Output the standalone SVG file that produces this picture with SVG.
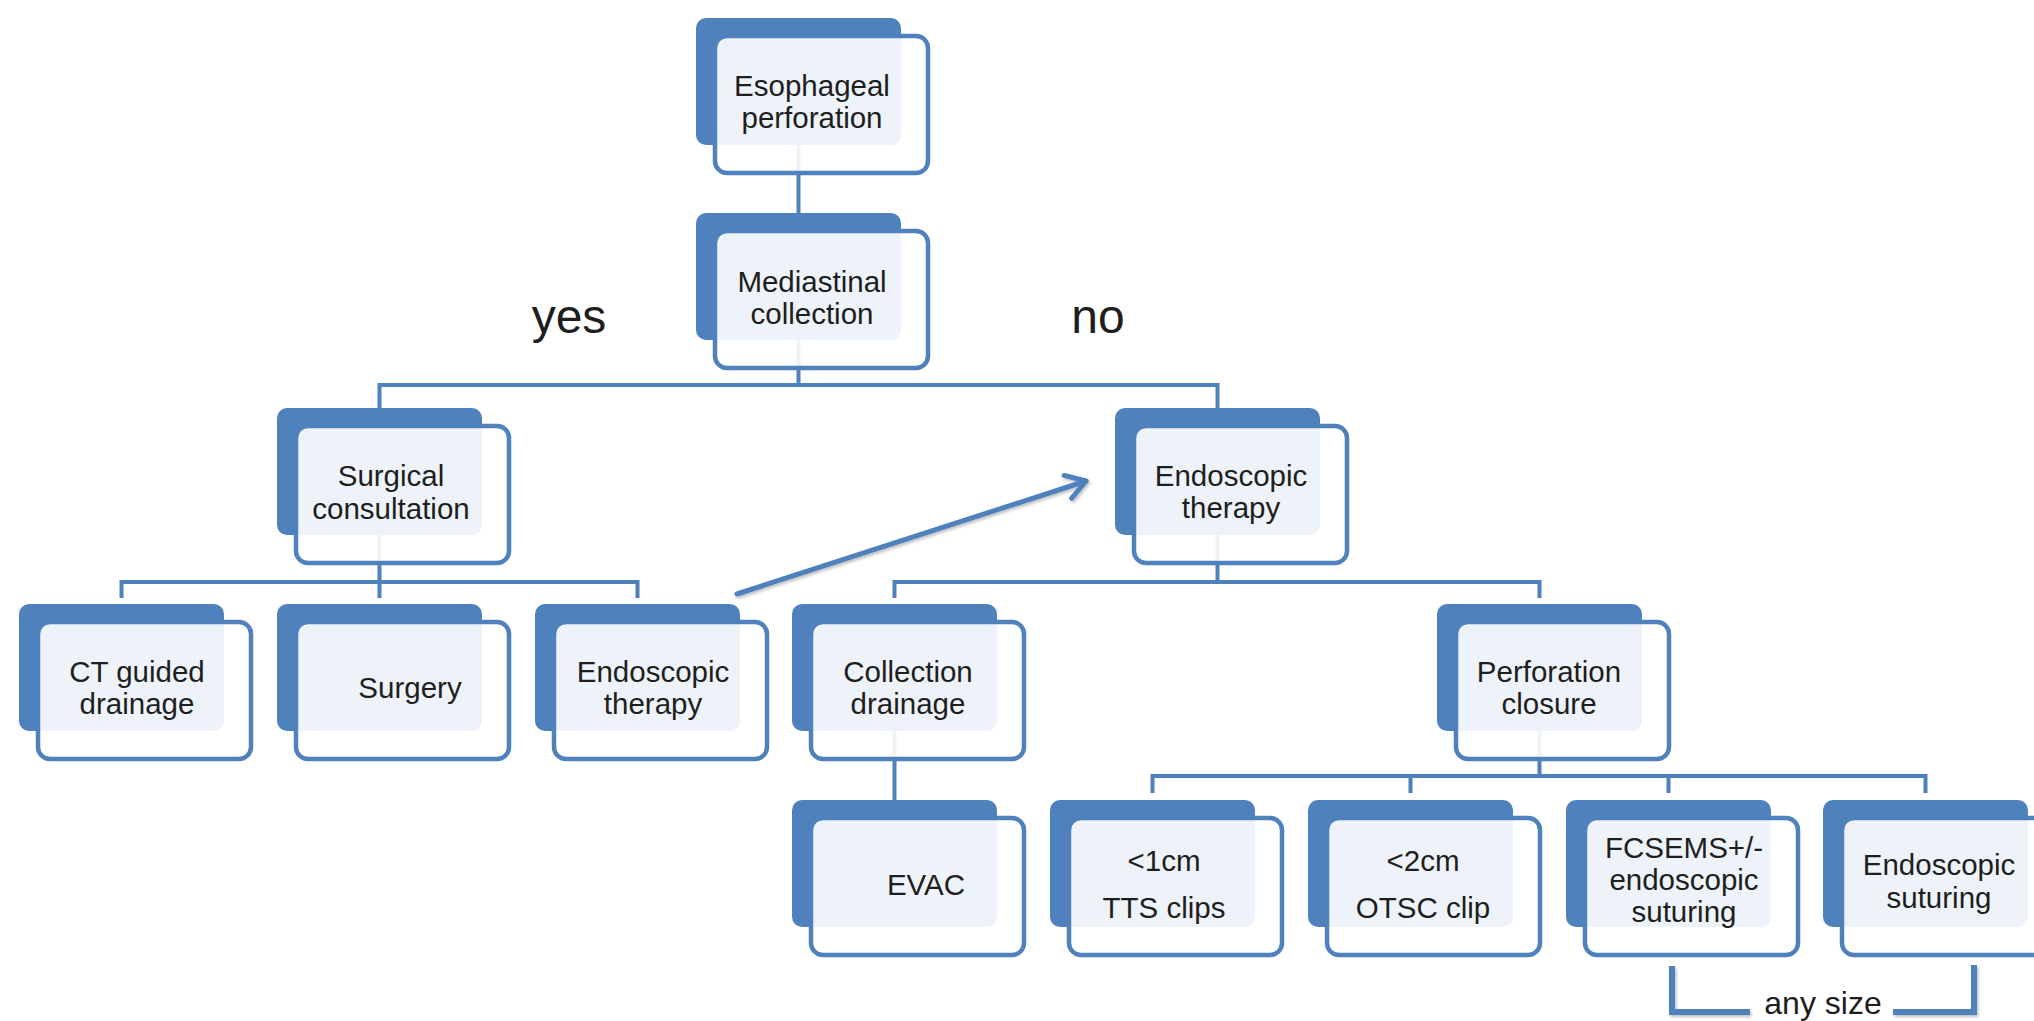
<svg xmlns="http://www.w3.org/2000/svg" width="2034" height="1021" viewBox="0 0 2034 1021">
  <style>
    .back { fill: #4f81bd; }
    .front { fill: #ffffff; fill-opacity: 0.9; stroke: #4f81bd; stroke-width: 4.5; }
    .lbl { font-family: "Liberation Sans", Arial, sans-serif; font-size: 29.5px; fill: #1e1e1e; text-anchor: middle; }
    .big { font-family: "Liberation Sans", Arial, sans-serif; font-size: 48px; fill: #1e1e1e; text-anchor: middle; }
    .small { font-family: "Liberation Sans", Arial, sans-serif; font-size: 32px; fill: #1e1e1e; text-anchor: middle; }
    .conn { fill: none; stroke: #4f81bd; stroke-width: 4; }
    .arrow { fill: none; stroke: #4f81bd; stroke-width: 5; stroke-linecap: round; }
    .bracket { fill: none; stroke: #4f81bd; stroke-width: 6; }
  </style>
  <defs>
    <filter id="sh" x="-10%" y="-10%" width="120%" height="130%">
      <feDropShadow dx="1.5" dy="2" stdDeviation="1.5" flood-color="#000" flood-opacity="0.25"/>
    </filter>
    <marker id="chev" markerUnits="userSpaceOnUse" markerWidth="40" markerHeight="40" refX="0" refY="0" viewBox="-30 -20 40 40" orient="auto">
      <path d="M -19 -12 L 0 0 L -19 12" fill="none" stroke="#4f81bd" stroke-width="5" stroke-linecap="round" stroke-linejoin="round"/>
    </marker>
  </defs>
  <rect width="2034" height="1021" fill="#ffffff"/>

  <g id="connectors">
    <path class="conn" d="M 798.5 145 V 213"/>
    <path class="conn" d="M 798.5 340 V 385 M 379.5 408 V 385 H 1217.5 V 408"/>
    <path class="conn" d="M 379.5 535 V 582 M 121.5 598 V 582 H 637.5 V 598 M 379.5 582 V 598"/>
    <path class="conn" d="M 1217.5 535 V 582 M 894.5 598 V 582 H 1539.5 V 598"/>
    <path class="conn" d="M 894.5 731 V 800"/>
    <path class="conn" d="M 1539.5 731 V 776 M 1152.5 793 V 776 H 1925.5 V 793 M 1410.5 776 V 793 M 1668.5 776 V 793"/>
    <path class="arrow" filter="url(#sh)" d="M 737 594 L 1086 481" marker-end="url(#chev)"/>
    <path class="bracket" filter="url(#sh)" d="M 1672 966 V 1012 H 1750 M 1893 1012 H 1974 V 965"/>
  </g>

  <g id="n-esophageal">
    <rect class="back" x="696" y="18" width="205" height="127" rx="10"/>
    <rect class="front" x="715" y="36" width="213" height="137" rx="12"/>
    <text class="lbl" x="812" y="96">Esophageal</text>
    <text class="lbl" x="812" y="128">perforation</text>
  </g>

  <g id="n-mediastinal">
    <rect class="back" x="696" y="213" width="205" height="127" rx="10"/>
    <rect class="front" x="715" y="231" width="213" height="137" rx="12"/>
    <text class="lbl" x="812" y="292">Mediastinal</text>
    <text class="lbl" x="812" y="324">collection</text>
  </g>

  <text id="lbl-yes" class="big" x="569" y="333">yes</text>
  <text id="lbl-no" class="big" x="1098" y="333">no</text>

  <g id="n-surgical">
    <rect class="back" x="277" y="408" width="205" height="127" rx="10"/>
    <rect class="front" x="296" y="426" width="213" height="137" rx="12"/>
    <text class="lbl" x="391" y="486">Surgical</text>
    <text class="lbl" x="391" y="519">consultation</text>
  </g>

  <g id="n-endoscopic-main">
    <rect class="back" x="1115" y="408" width="205" height="127" rx="10"/>
    <rect class="front" x="1134" y="426" width="213" height="137" rx="12"/>
    <text class="lbl" x="1231" y="486">Endoscopic</text>
    <text class="lbl" x="1231" y="518">therapy</text>
  </g>

  <g id="n-ct">
    <rect class="back" x="19" y="604" width="205" height="127" rx="10"/>
    <rect class="front" x="38" y="622" width="213" height="137" rx="12"/>
    <text class="lbl" x="137" y="682">CT guided</text>
    <text class="lbl" x="137" y="714">drainage</text>
  </g>

  <g id="n-surgery">
    <rect class="back" x="277" y="604" width="205" height="127" rx="10"/>
    <rect class="front" x="296" y="622" width="213" height="137" rx="12"/>
    <text class="lbl" x="410" y="698">Surgery</text>
  </g>

  <g id="n-endoscopic-left">
    <rect class="back" x="535" y="604" width="205" height="127" rx="10"/>
    <rect class="front" x="554" y="622" width="213" height="137" rx="12"/>
    <text class="lbl" x="653" y="682">Endoscopic</text>
    <text class="lbl" x="653" y="714">therapy</text>
  </g>

  <g id="n-collection">
    <rect class="back" x="792" y="604" width="205" height="127" rx="10"/>
    <rect class="front" x="811" y="622" width="213" height="137" rx="12"/>
    <text class="lbl" x="908" y="682">Collection</text>
    <text class="lbl" x="908" y="714">drainage</text>
  </g>

  <g id="n-perforation">
    <rect class="back" x="1437" y="604" width="205" height="127" rx="10"/>
    <rect class="front" x="1456" y="622" width="213" height="137" rx="12"/>
    <text class="lbl" x="1549" y="682">Perforation</text>
    <text class="lbl" x="1549" y="714">closure</text>
  </g>

  <g id="n-evac">
    <rect class="back" x="792" y="800" width="205" height="127" rx="10"/>
    <rect class="front" x="811" y="818" width="213" height="137" rx="12"/>
    <text class="lbl" x="926" y="895">EVAC</text>
  </g>

  <g id="n-1cm">
    <rect class="back" x="1050" y="800" width="205" height="127" rx="10"/>
    <rect class="front" x="1069" y="818" width="213" height="137" rx="12"/>
    <text class="lbl" x="1164" y="871">&lt;1cm</text>
    <text class="lbl" x="1164" y="918">TTS clips</text>
  </g>

  <g id="n-2cm">
    <rect class="back" x="1308" y="800" width="205" height="127" rx="10"/>
    <rect class="front" x="1327" y="818" width="213" height="137" rx="12"/>
    <text class="lbl" x="1423" y="871">&lt;2cm</text>
    <text class="lbl" x="1423" y="918">OTSC clip</text>
  </g>

  <g id="n-fcsems">
    <rect class="back" x="1566" y="800" width="205" height="127" rx="10"/>
    <rect class="front" x="1585" y="818" width="213" height="137" rx="12"/>
    <text class="lbl" x="1684" y="858">FCSEMS+/-</text>
    <text class="lbl" x="1684" y="890">endoscopic</text>
    <text class="lbl" x="1684" y="922">suturing</text>
  </g>

  <g id="n-suturing">
    <rect class="back" x="1823" y="800" width="205" height="127" rx="10"/>
    <rect class="front" x="1842" y="818" width="213" height="137" rx="12"/>
    <text class="lbl" x="1939" y="875">Endoscopic</text>
    <text class="lbl" x="1939" y="908">suturing</text>
  </g>

  <text id="lbl-anysize" class="small" x="1823" y="1014">any size</text>
</svg>
